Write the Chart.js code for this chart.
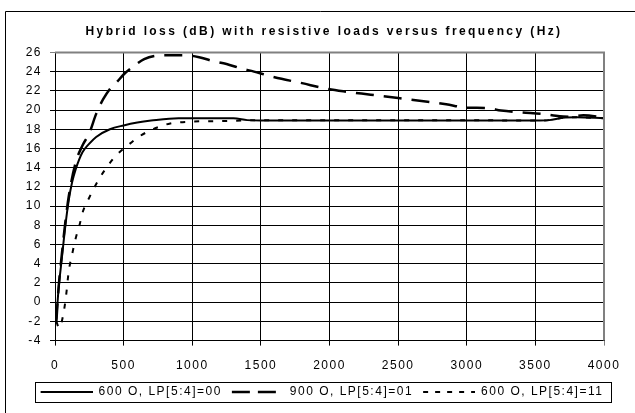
<!DOCTYPE html>
<html>
<head>
<meta charset="utf-8">
<script src="https://cdn.jsdelivr.net/npm/chart.js@4.4.1/dist/chart.umd.min.js"></script>
<style>
  html, body { margin: 0; padding: 0; background: #fff; }
  #wrap { width: 635px; height: 413px; }
</style>
</head>
<body>
<div id="wrap"><canvas id="hybrid-loss" width="635" height="413"></canvas></div>
<script>
// 600 O, LP[5:4]=00
var freq00 = [10, 25, 50, 75, 100, 125, 150, 200, 250, 300, 400, 500, 600, 700, 900, 1000, 1300, 1400, 1500, 2000, 2500, 3000, 3500, 3600, 3700, 3800, 4000];
var loss00 = [-1.8, 1.2, 4.6, 7.9, 10.6, 12.5, 13.8, 15.6, 16.5, 17.2, 18.0, 18.4, 18.7, 18.9, 19.15, 19.15, 19.15, 18.95, 18.9, 18.9, 18.9, 18.9, 18.9, 18.95, 19.2, 19.25, 19.15];

// 900 O, LP[5:4]=01
var freq01 = [10, 25, 50, 75, 100, 150, 200, 250, 300, 350, 400, 450, 500, 550, 650, 730, 800, 950, 1050, 1150, 1250, 1350, 1450, 1550, 1650, 1800, 1950, 2100, 2300, 2500, 2700, 2850, 3000, 3150, 3250, 3400, 3550, 3650, 3750, 3850, 4000];
var loss01 = [-2, 1.3, 5, 8.3, 11, 14.5, 16.3, 17.6, 19.6, 21.1, 22.2, 22.9, 23.7, 24.3, 25.3, 25.65, 25.7, 25.7, 25.5, 25.1, 24.8, 24.35, 24.0, 23.6, 23.25, 22.8, 22.3, 21.95, 21.6, 21.25, 20.9, 20.6, 20.25, 20.2, 19.95, 19.75, 19.6, 19.4, 19.3, 19.45, 19.2];

// 600 O, LP[5:4]=11
var freq11 = [10, 30, 60, 80, 100, 125, 150, 180, 200, 250, 320, 380, 440, 520, 620, 730, 840, 1000, 1200, 1500, 2000, 2500, 3000, 3500, 3600, 3700, 3800, 4000];
var loss11 = [-2, -2.7, -1.3, 0.6, 3.2, 5, 6.6, 8.1, 9.3, 10.9, 12.8, 14.1, 15.2, 16.2, 17.3, 18.1, 18.6, 18.8, 18.85, 18.95, 18.95, 18.95, 18.95, 18.9, 18.95, 19.2, 19.25, 19.15];

var seriesLabels = ["600 O, LP[5:4]=00", "900 O, LP[5:4]=01", "600 O, LP[5:4]=11"];
var titleText = "Hybrid loss (dB) with resistive loads versus frequency (Hz)";

var FONT = "'Liberation Sans', Arial, sans-serif";
var SAMPLE_GAP = 10;
var SAMPLE_LEN = 52;

function toPoints(xs, ys) {
    var pts = [];
    for (var i = 0; i < xs.length; i++) pts.push({x: xs[i], y: ys[i]});
    return pts;
}

// legend sample: little canvas with the dataset's dash, blank gap in front
function lineSample(width, dash) {
    var cv = document.createElement("canvas");
    cv.width = SAMPLE_GAP + SAMPLE_LEN;
    cv.height = 4;
    var c = cv.getContext("2d");
    c.strokeStyle = "#000";
    c.lineWidth = width;
    c.setLineDash(dash);
    c.beginPath();
    c.moveTo(SAMPLE_GAP, 2);
    c.lineTo(SAMPLE_GAP + SAMPLE_LEN, 2);
    c.stroke();
    return cv;
}

// letter spacing like the original export
var spacing = {
    id: "spacing",
    beforeLayout: function(chart) { chart.ctx.letterSpacing = "1.5px"; },
    beforeDraw: function(chart) {
        var c = chart.ctx;
        c.letterSpacing = "1.5px";
        // outer frame (left and top edge only visible)
        c.save();
        c.strokeStyle = "#000";
        c.lineWidth = 1;
        c.beginPath();
        c.moveTo(5.5, 413);
        c.lineTo(5.5, 11.5);
        c.lineTo(635, 11.5);
        c.stroke();
        c.restore();
    },
    afterLayout: function(chart) {
        // title and legend sit centred on the whole box in the original
        chart.legend.left += 10;
        chart.legend.right += 10;
        var t = chart.titleBlock;
        t.left += 17;
        t.right += 17;
        if (!t._wrapped) {
            var orig = t.draw.bind(t);
            t.draw = function() {
                chart.ctx.save();
                chart.ctx.letterSpacing = "2.4px";
                orig();
                chart.ctx.restore();
            };
            t._wrapped = true;
        }
    },
    afterDraw: function(chart) {
        var c = chart.ctx;
        var a = chart.chartArea;
        c.save();
        // grey frame top and right
        c.strokeStyle = "#808080";
        c.lineWidth = 2;
        c.beginPath();
        c.moveTo(a.left, a.top);
        c.lineTo(a.right, a.top);
        c.lineTo(a.right, a.bottom);
        c.stroke();
        // legend box
        var hb = chart.legend.legendHitBoxes;
        if (hb && hb.length) {
            var first = hb[0], last = hb[hb.length - 1];
            var l = Math.round(first.left + SAMPLE_GAP - 6) + 0.5;
            var r = Math.round(last.left + last.width + 8) + 0.5;
            var t = Math.round(first.top - 4) + 0.5;
            var b = Math.round(first.top + first.height + 4) + 0.5;
            c.strokeStyle = "#000";
            c.lineWidth = 1;
            c.strokeRect(l, t, r - l, b - t);
        }
        c.restore();
    }
};

var samples = [lineSample(2, []), lineSample(2.5, [18, 8]), lineSample(2, [5, 7])];

var ctx = document.getElementById("hybrid-loss").getContext("2d");
var myChart = new Chart(ctx, {
    type: "line",
    data: {
        datasets: [{
                label: seriesLabels[0],
                data: toPoints(freq00, loss00),
                borderColor: "#000",
                borderWidth: 2,
                pointRadius: 0,
                cubicInterpolationMode: "monotone"
            },
            {
                label: seriesLabels[1],
                data: toPoints(freq01, loss01),
                borderColor: "#000",
                borderWidth: 2.5,
                borderDash: [18, 10],
                pointRadius: 0,
                cubicInterpolationMode: "monotone"
            },
            {
                label: seriesLabels[2],
                data: toPoints(freq11, loss11),
                borderColor: "#000",
                borderWidth: 2,
                borderDash: [5, 9],
                pointRadius: 0,
                cubicInterpolationMode: "monotone"
            }
        ]
    },
    options: {
        responsive: false,
        animation: false,
        layout: {
            padding: {left: 10, right: 31, top: 0, bottom: 5}
        },
        font: {family: FONT, size: 12},
        color: "#000",
        scales: {
            x: {
                type: "linear",
                min: 0,
                max: 4000,
                ticks: {stepSize: 500, color: "#000", padding: 13, maxRotation: 0,
                        font: {family: FONT, size: 12},
                        callback: function(v) { return String(v); }},
                grid: {
                    color: function(c) { return c.tick && c.tick.value === 4000 ? "#808080" : "#000"; },
                    tickLength: 5
                },
                border: {color: "#000", width: 1}
            },
            y: {
                min: -4,
                max: 26,
                ticks: {stepSize: 2, color: "#000", padding: 8,
                        font: {family: FONT, size: 12}},
                grid: {
                    color: function(c) { return c.tick && c.tick.value === 26 ? "#808080" : "#000"; },
                    tickLength: 5
                },
                border: {color: "#000", width: 1},
                afterFit: function(scale) { scale.width = 45; }
            }
        },
        plugins: {
            title: {
                display: true,
                text: titleText,
                color: "#000",
                font: {family: FONT, size: 12, weight: "bold"},
                padding: {top: 24, bottom: 14}
            },
            legend: {
                position: "bottom",
                labels: {
                    color: "#000",
                    usePointStyle: true,
                    pointStyleWidth: SAMPLE_GAP + SAMPLE_LEN,
                    padding: 0,
                    font: {family: FONT, size: 12},
                    generateLabels: function(chart) {
                        var items = Chart.defaults.plugins.legend.labels.generateLabels(chart);
                        items.forEach(function(it, i) { it.pointStyle = samples[i]; });
                        return items;
                    }
                }
            },
            tooltip: {enabled: false}
        }
    },
    plugins: [spacing]
});
</script>
</body>
</html>
